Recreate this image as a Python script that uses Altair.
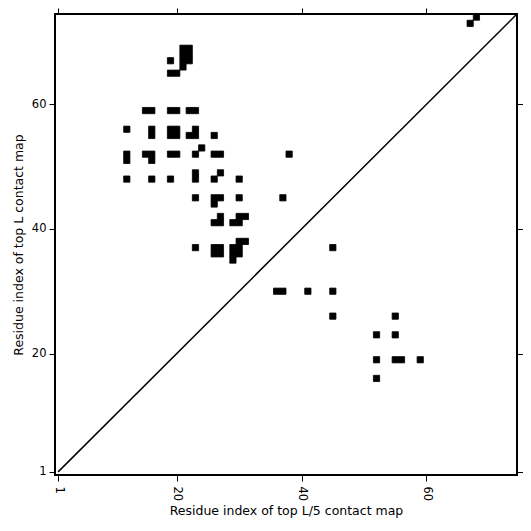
import altair as alt
import pandas as pd

# contact cells (x = residue index top L/5 map, y = residue index top L map)
xs = [21, 22, 21, 22, 21, 22, 21, 19, 19, 20,
      15, 16, 19, 20, 22, 23,
      12, 16, 19, 20, 23,
      16, 19, 20, 22, 23, 26,
      24,
      12, 15, 16, 19, 20, 23, 26, 27, 38,
      12, 16,
      23, 27,
      12, 16, 19, 23, 26, 30,
      23, 26, 27, 30, 37,
      26,
      27, 30, 31,
      26, 27, 29, 30,
      30, 31,
      23, 26, 27, 29, 30, 45,
      26, 27, 29, 30,
      29,
      36, 37, 41, 45,
      45, 55,
      52, 55,
      52, 55, 56, 59,
      52,
      67, 68]
ys = [69, 69, 68, 68, 67, 67, 66, 67, 65, 65,
      59, 59, 59, 59, 59, 59,
      56, 56, 56, 56, 56,
      55, 55, 55, 55, 55, 55,
      53,
      52, 52, 52, 52, 52, 52, 52, 52, 52,
      51, 51,
      49, 49,
      48, 48, 48, 48, 48, 48,
      45, 45, 45, 45, 45,
      44,
      42, 42, 42,
      41, 41, 41, 41,
      38, 38,
      37, 37, 37, 37, 37, 37,
      36, 36, 36, 36,
      35,
      30, 30, 30, 30,
      26, 26,
      23, 23,
      19, 19, 19, 19,
      16,
      73, 74]

diag_x = [1, 74.5]
diag_y = [1, 74.5]
tick_values = [1, 20, 40, 60]

cells = pd.DataFrame({"i": xs, "j": ys})
diag = pd.DataFrame({"x": diag_x, "y": diag_y})

FONT = "DejaVu Sans"
sx = alt.Scale(domain=[0.5, 74.5], nice=False, zero=False)
sy = alt.Scale(domain=[0.5, 74.5], nice=False, zero=False)

common_axis = dict(values=tick_values, grid=False, domain=False, tickColor="black",
                   tickSize=6, tickWidth=1, labelColor="black", labelFont=FONT,
                   labelFontSize=11.5, titleFont=FONT, titleFontSize=12.5,
                   titleFontWeight="normal", titleColor="black")

rects = alt.Chart(cells).transform_calculate(
    x0="datum.i - 0.5", x1="datum.i + 0.5", y0="datum.j - 0.5", y1="datum.j + 0.5"
).mark_rect(color="black", stroke="black", strokeWidth=0.8).encode(
    x=alt.X("x0:Q", scale=sx, axis=alt.Axis(orient="bottom", labelAngle=90, labelPadding=5,
                                             title="Residue index of top L/5 contact map",
                                             titlePadding=4, **common_axis)),
    x2="x1:Q",
    y=alt.Y("y0:Q", scale=sy, axis=alt.Axis(orient="left", labelPadding=3,
                                             title="Residue index of top L contact map",
                                             titlePadding=6, **common_axis)),
    y2="y1:Q",
)

line = alt.Chart(diag).mark_line(color="black", strokeWidth=1.5, clip=True).encode(
    x=alt.X("x:Q", scale=sx, axis=alt.Axis(orient="top", labels=False, title=None,
                                           values=tick_values, grid=False, domain=False,
                                           tickColor="black", tickSize=6)),
    y=alt.Y("y:Q", scale=sy, axis=alt.Axis(orient="right", labels=False, title=None,
                                           values=tick_values, grid=False, domain=False,
                                           tickColor="black", tickSize=6)),
)

chart = alt.layer(rects, line).resolve_axis(x="independent", y="independent").properties(
    width=462, height=461,
    autosize=alt.AutoSizeParams(type="none"),
    padding={"left": 47, "top": 6, "right": 6, "bottom": 48},
).configure_view(stroke="black", strokeWidth=2)

chart.save("out.html", embed_options={"renderer": "svg", "actions": False})
